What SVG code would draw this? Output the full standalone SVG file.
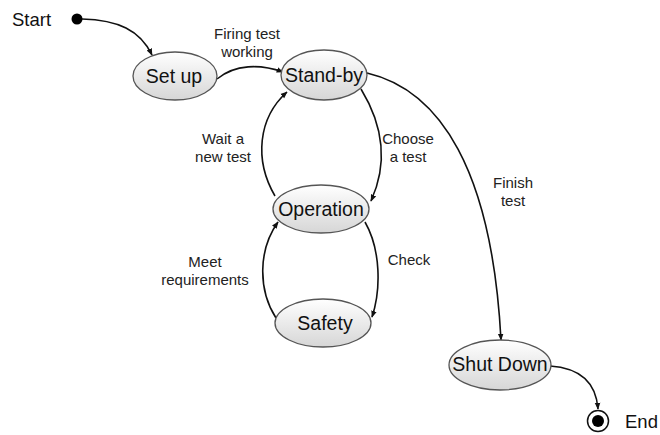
<svg xmlns="http://www.w3.org/2000/svg" width="660" height="435" viewBox="0 0 660 435">
  <defs>
    <linearGradient id="stateFill" x1="0" y1="0" x2="0" y2="1">
      <stop offset="0" stop-color="#ffffff"/>
      <stop offset="1" stop-color="#d6d6d6"/>
    </linearGradient>
    <marker id="arrow" viewBox="0 0 10 10" refX="9" refY="5" markerWidth="7" markerHeight="7" orient="auto" markerUnits="userSpaceOnUse">
      <path d="M0,1 L10,5 L0,9 Z" fill="#111"/>
    </marker>
    <style>
      .state { fill: url(#stateFill); stroke: #555; stroke-width: 1.3; }
      .name { font-family: "Liberation Sans", Arial, sans-serif; font-size: 19.5px; fill: #111; text-anchor: middle; }
      .label { font-family: "Liberation Sans", Arial, sans-serif; font-size: 15px; fill: #222; text-anchor: middle; }
      .term { font-family: "Liberation Sans", Arial, sans-serif; font-size: 18.5px; fill: #111; }
      .edge { fill: none; stroke: #111; stroke-width: 1.6; marker-end: url(#arrow); }
    </style>
  </defs>
  <rect width="660" height="435" fill="#ffffff"/>

  <!-- transitions -->
  <g id="connectors">
    <path class="edge" d="M82,19 C118,20 140,30 152,55"/>
    <path class="edge" d="M217,79 C235,64 260,64 283,72"/>
    <path class="edge" d="M361,89 C386,130 386,168 371,201"/>
    <path class="edge" d="M275,196 C254,160 258,118 287,92"/>
    <path class="edge" d="M365,222 C381,250 381,290 372,317"/>
    <path class="edge" d="M276,318 C258,290 258,250 278,222"/>
    <path class="edge" d="M367,73 C440,90 492,170 501,340"/>
    <path class="edge" d="M550,366 C580,368 596,382 598,409"/>
  </g>

  <!-- transition labels -->
  <g id="labels">
    <text class="label" x="247" y="39">Firing test</text>
    <text class="label" x="247" y="57">working</text>
    <text class="label" x="223" y="144">Wait a</text>
    <text class="label" x="223" y="162">new test</text>
    <text class="label" x="408" y="144">Choose</text>
    <text class="label" x="408" y="162">a test</text>
    <text class="label" x="513" y="188">Finish</text>
    <text class="label" x="513" y="206">test</text>
    <text class="label" x="205" y="267">Meet</text>
    <text class="label" x="205" y="285">requirements</text>
    <text class="label" x="409" y="265">Check</text>
  </g>

  <g id="start">
    <text class="term" x="12" y="26">Start</text>
    <circle cx="77" cy="19" r="5.5" fill="#000"/>
  </g>

  <g id="setup">
    <ellipse class="state" cx="175" cy="76" rx="42" ry="24"/>
    <text class="name" x="174" y="83">Set up</text>
  </g>

  <g id="standby">
    <ellipse class="state" cx="324" cy="75" rx="43" ry="25"/>
    <text class="name" x="324" y="82">Stand-by</text>
  </g>

  <g id="operation">
    <ellipse class="state" cx="321" cy="209" rx="48" ry="24"/>
    <text class="name" x="321" y="216">Operation</text>
  </g>

  <g id="safety">
    <ellipse class="state" cx="323" cy="323" rx="48" ry="24"/>
    <text class="name" x="325" y="330">Safety</text>
  </g>

  <g id="shutdown">
    <ellipse class="state" cx="500" cy="365" rx="51" ry="25"/>
    <text class="name" x="500" y="371">Shut Down</text>
  </g>

  <g id="end">
    <circle cx="598" cy="421" r="10.5" fill="#fff" stroke="#111" stroke-width="1.5"/>
    <circle cx="598" cy="421" r="6" fill="#000"/>
    <text class="term" x="625" y="428">End</text>
  </g>
</svg>
